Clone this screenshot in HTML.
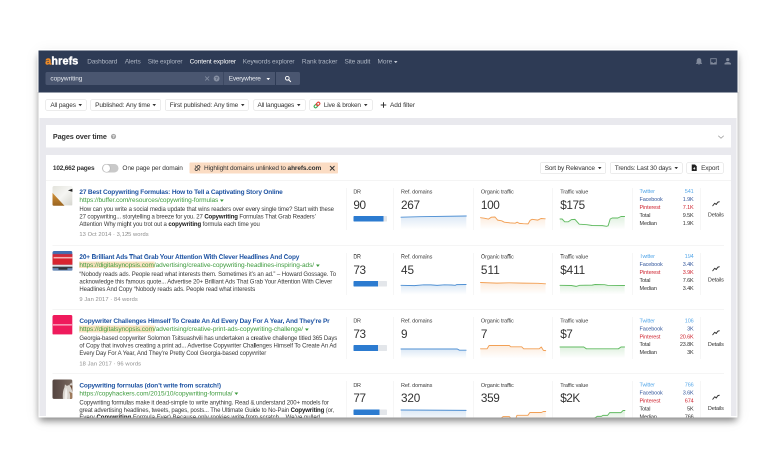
<!DOCTYPE html>
<html lang="en"><head><meta charset="utf-8"><title>Ahrefs Content explorer - copywriting</title>
<style>
html,body{margin:0;padding:0;background:#fff;}
body{width:775px;height:474px;overflow:hidden;position:relative;font-family:"Liberation Sans",sans-serif;}
#stage{position:absolute;left:0;top:0;width:775px;height:474px;overflow:hidden;}
#lay{position:absolute;left:0;top:0;width:1550px;height:948px;transform:scale(.5);transform-origin:0 0;will-change:transform;}
#sh{position:absolute;left:77px;top:101px;width:1398px;height:734px;box-shadow:0 8px 14px -2px rgba(0,0,0,.48),0 4px 30px rgba(0,0,0,.08);}
#halo{position:absolute;left:75px;top:98px;width:1402px;height:86px;background:#fff;}
#win{position:absolute;left:77px;top:101px;width:1398px;height:734px;overflow:hidden;background:#e9e9ee;color:#333;}
.b{position:absolute;display:block;box-sizing:border-box;}
.t{position:absolute;white-space:nowrap;font-size:13px;letter-spacing:-.32px;}
.nav{background:#2e3b55;}
.logo{font-size:21.5px;font-weight:700;color:#fff;-webkit-text-stroke:.8px;}
.nv{color:#aeb6c4;}
.nv.act{color:#fff;}
.sbox{background:#4a5670;}
.sv{color:#e8ebf0;}
.btn{background:#fff;border:1px solid #dadada;border-radius:2.5px;}
.f13{color:#333;}
.h14{font-size:14.500px;font-weight:700;color:#333;}
.b13{font-weight:700;color:#333;}
.ttl{font-weight:700;color:#1f54a3;}
.url{color:#3f9c3f;}
.dsc{font-size:12px;color:#3a3a3a;letter-spacing:-.2px;}
.dsc b{color:#161616;}
.meta{font-size:11.500px;color:#8e8e8e;letter-spacing:-.2px;}
.lbl{font-size:11px;color:#3c3c3c;letter-spacing:-.25px;}
.num{font-size:23.5px;color:#333;}
.soc{font-size:11px;letter-spacing:-.25px;}
</style></head>
<body><div id="stage"><div id="lay"><div id="sh"></div><div id="halo"></div><div id="win">
<div class="b nav" style="left:0.0px;top:0.0px;width:1398.0px;height:83.6px;"></div>
<div class="t logo" style="left:13.6px;top:7.8px;line-height:26px;letter-spacing:0.291px;"><span style="color:#f08c28">a</span>hrefs</div>
<div class="t nv" style="left:97.4px;top:14.2px;line-height:16px;letter-spacing:-0.401px;">Dashboard</div>
<div class="t nv" style="left:172.6px;top:14.2px;line-height:16px;letter-spacing:-0.287px;">Alerts</div>
<div class="t nv" style="left:218.4px;top:14.2px;line-height:16px;letter-spacing:-0.265px;">Site explorer</div>
<div class="t nv act" style="left:302.2px;top:14.2px;line-height:16px;letter-spacing:-0.208px;">Content explorer</div>
<div class="t nv" style="left:408.6px;top:14.2px;line-height:16px;letter-spacing:-0.254px;">Keywords explorer</div>
<div class="t nv" style="left:526.8px;top:14.2px;line-height:16px;letter-spacing:-0.246px;">Rank tracker</div>
<div class="t nv" style="left:612.0px;top:14.2px;line-height:16px;letter-spacing:-0.289px;">Site audit</div>
<div class="t nv" style="left:678.0px;top:14.2px;line-height:16px;letter-spacing:-0.075px;">More</div>
<svg class="b" style="left:710.9px;top:20.55px" width="7" height="4.5" viewBox="0 0 7 4.5"><path d="M0 0h7L3.5 4.5z" fill="#c5cbd6"/></svg>
<svg class="b" style="left:1310.0px;top:12.2px" width="80" height="20" viewBox="0 0 80 20">
<path d="M11 3.200c-3 0-4.600 2.200-4.600 5.200v3.600l-1.600 2v.8h12.400v-.8l-1.600-2V8.400c0-3-1.600-5.200-4.600-5.200zM9.300 15.800a1.800 1.800 0 0 0 3.400 0z" fill="#818a9c"/>
<path d="M33.500 3.500h13v12.500h-13zM35.300 5.300v6.200h2.700l.8 1.600h2.400l.8-1.600h2.700V5.300z" fill="#818a9c" fill-rule="evenodd"/>
<path d="M68.500 3a3.300 3.300 0 1 1 0 6.600a3.300 3.300 0 0 1 0-6.600zM62 16v-1.500c0-2.300 4.300-3.500 6.500-3.500s6.500 1.200 6.500 3.500V16z" fill="#818a9c"/>
</svg>
<div class="b sbox" style="left:14.2px;top:43.4px;width:354.6px;height:26.0px;border-radius:3px 0 0 3px"></div>
<div class="t sv" style="left:23.8px;top:48.4px;line-height:16px;letter-spacing:-0.103px;">copywriting</div>
<svg class="b" style="left:330.0px;top:49.4px" width="34" height="14" viewBox="0 0 34 14">
<path d="M3.300 3l8 8M11.300 3l-8 8" stroke="#8a94a7" stroke-width="1.500" fill="none"/>
<circle cx="26.200" cy="7" r="5.900" fill="#8790a3"/>
<text x="26.200" y="10.300" text-anchor="middle" font-family="Liberation Sans, sans-serif" font-size="9.500" font-weight="700" fill="#414d66">?</text>
</svg>
<div class="b sbox" style="left:369.8px;top:43.4px;width:103.6px;height:26.0px;"></div>
<div class="t sv" style="left:380.6px;top:48.4px;line-height:16px;letter-spacing:-0.493px;">Everywhere</div>
<svg class="b" style="left:455.7px;top:54.55px" width="7" height="4.5" viewBox="0 0 7 4.5"><path d="M0 0h7L3.5 4.5z" fill="#fff"/></svg>
<div class="b sbox" style="left:475.0px;top:43.4px;width:48.0px;height:26.0px;border-radius:0 3px 3px 0"></div>
<svg class="b" style="left:492.0px;top:49.8px" width="14" height="14" viewBox="0 0 14 14">
<circle cx="5.600" cy="5.600" r="3.700" stroke="#fff" stroke-width="1.900" fill="none"/><path d="M8.500 8.500l3.700 3.700" stroke="#fff" stroke-width="2.200" stroke-linecap="round"/></svg>
<div class="b " style="left:0.0px;top:83.6px;width:1398.0px;height:51.0px;background:#fff"></div>
<div class="b btn" style="left:14.2px;top:98.0px;width:82.0px;height:22.4px;"></div><div class="t f13" style="left:23.7px;top:101.3px;line-height:16px;letter-spacing:-0.273px;">All pages</div><svg class="b" style="left:80.1px;top:107.15px" width="7" height="4.5" viewBox="0 0 7 4.5"><path d="M0 0h7L3.5 4.5z" fill="#333"/></svg>
<div class="b btn" style="left:103.8px;top:98.0px;width:141.0px;height:22.4px;"></div><div class="t f13" style="left:113.2px;top:101.3px;line-height:16px;letter-spacing:-0.210px;">Published: Any time</div><svg class="b" style="left:228.1px;top:107.15px" width="7" height="4.5" viewBox="0 0 7 4.5"><path d="M0 0h7L3.5 4.5z" fill="#333"/></svg>
<div class="b btn" style="left:253.0px;top:98.0px;width:167.4px;height:22.4px;"></div><div class="t f13" style="left:262.4px;top:101.3px;line-height:16px;letter-spacing:-0.184px;">First published: Any time</div><svg class="b" style="left:404.5px;top:107.15px" width="7" height="4.5" viewBox="0 0 7 4.5"><path d="M0 0h7L3.5 4.5z" fill="#333"/></svg>
<div class="b btn" style="left:429.6px;top:98.0px;width:104.6px;height:22.4px;"></div><div class="t f13" style="left:438.0px;top:101.3px;line-height:16px;letter-spacing:-0.372px;">All languages</div><svg class="b" style="left:516.7px;top:107.15px" width="7" height="4.5" viewBox="0 0 7 4.5"><path d="M0 0h7L3.5 4.5z" fill="#333"/></svg>
<div class="b btn" style="left:542.0px;top:98.0px;width:126.0px;height:22.4px;"></div><div class="t f13" style="left:570.8px;top:101.3px;line-height:16px;letter-spacing:-0.442px;">Live &amp; broken</div><svg class="b" style="left:650.9px;top:107.15px" width="7" height="4.5" viewBox="0 0 7 4.5"><path d="M0 0h7L3.5 4.5z" fill="#333"/></svg>
<svg class="b" style="left:550.2px;top:102.2px" width="14" height="14" viewBox="0 0 14 14">
<g transform="rotate(-45 7 7)"><rect x="0.200" y="4.300" width="7.400" height="5.400" rx="2.700" fill="none" stroke="#3fae5a" stroke-width="2.300"/><rect x="6.400" y="4.300" width="7.400" height="5.400" rx="2.700" fill="none" stroke="#e2463c" stroke-width="2.300"/></g></svg>
<svg class="b" style="left:683.8px;top:103.4px" width="12" height="12" viewBox="0 0 12 12"><path d="M6 0.500v11M0.500 6h11" stroke="#333" stroke-width="2"/></svg>
<div class="t f13" style="left:703.0px;top:101.4px;line-height:16px;letter-spacing:-0.146px;">Add filter</div>
<div class="b " style="left:14.6px;top:149.0px;width:1370.4px;height:45.2px;background:#fff"></div>
<div class="t h14" style="left:28.8px;top:164.2px;line-height:16px;letter-spacing:-0.231px;">Pages over time</div>
<svg class="b" style="left:143.8px;top:166.2px" width="12" height="12" viewBox="0 0 12 12"><circle cx="6" cy="6" r="5.200" fill="#a6a6a6"/><text x="6" y="9" text-anchor="middle" font-family="Liberation Sans, sans-serif" font-size="8.500" font-weight="700" fill="#fff">?</text></svg>
<svg class="b" style="left:1358.0px;top:168.0px" width="14" height="10" viewBox="0 0 14 10"><path d="M1.500 2.500l5.500 5 5.500-5" stroke="#9a9a9a" stroke-width="1.600" fill="none"/></svg>
<div class="b " style="left:14.6px;top:209.0px;width:1370.4px;height:530.0px;background:#fff"></div>
<div class="t b13" style="left:28.8px;top:227.0px;line-height:16px;letter-spacing:-0.399px;">102,662 pages</div>
<div class="b " style="left:127.4px;top:226.8px;width:33.0px;height:17.6px;background:#c9c9c9;border-radius:9px"><div style="position:absolute;left:1.500px;top:1.500px;width:14.600px;height:14.600px;border-radius:50%;background:#fff;box-shadow:0 0 2px rgba(0,0,0,.35)"></div></div>
<div class="t f13" style="left:167.8px;top:227.0px;line-height:16px;letter-spacing:-0.265px;">One page per domain</div>
<div class="b " style="left:302.2px;top:223.6px;width:297.2px;height:22.8px;background:#fbdcc3;border-radius:2px"></div>
<svg class="b" style="left:312.0px;top:229.0px" width="12" height="12" viewBox="0 0 12 12">
<g fill="none" stroke="#333" stroke-width="1.500"><path d="M4.800 3.400l1.500-1.500a2.600 2.600 0 0 1 3.800 3.800l-1.500 1.500"/><path d="M7.200 8.600l-1.500 1.500a2.600 2.600 0 0 1-3.800-3.800l1.500-1.500"/><path d="M1.200 1.200l9.600 9.600" stroke-width="1.300"/></g></svg>
<div class="t f13" style="left:331.0px;top:227.0px;line-height:16px;letter-spacing:-0.211px;">Highlight domains unlinked to <b>ahrefs.com</b></div>
<svg class="b" style="left:580.8px;top:228.8px" width="13" height="13" viewBox="0 0 13 13"><path d="M2 2l9 9M11 2l-9 9" stroke="#333" stroke-width="1.900" fill="none"/></svg>
<div class="b btn" style="left:1003.0px;top:223.6px;width:132.0px;height:22.8px;"></div><div class="t f13" style="left:1012.4px;top:227.1px;line-height:16px;letter-spacing:-0.352px;">Sort by Relevance</div><svg class="b" style="left:1118.7px;top:232.95px" width="7" height="4.5" viewBox="0 0 7 4.5"><path d="M0 0h7L3.5 4.5z" fill="#333"/></svg>
<div class="b btn" style="left:1143.0px;top:223.6px;width:145.2px;height:22.8px;"></div><div class="t f13" style="left:1152.6px;top:227.1px;line-height:16px;letter-spacing:-0.385px;">Trends: Last 30 days</div><svg class="b" style="left:1271.7px;top:232.95px" width="7" height="4.5" viewBox="0 0 7 4.5"><path d="M0 0h7L3.5 4.5z" fill="#333"/></svg>
<div class="b btn" style="left:1295.8px;top:223.6px;width:74.4px;height:22.8px;"></div><div class="t f13" style="left:1325.2px;top:227.1px;line-height:16px;letter-spacing:-0.276px;">Export</div>
<svg class="b" style="left:1305.8px;top:228.4px" width="11" height="13" viewBox="0 0 11 13"><path d="M0.500 0h6.500l3.500 3.500v9.500h-10z" fill="#222"/><path d="M5.500 5v4M3.600 7.400l1.900 1.900 1.900-1.900" stroke="#fff" stroke-width="1.200" fill="none"/></svg>
<div class="b " style="left:14.6px;top:259.1px;width:1370.4px;height:1.0px;background:#eaeaea"></div>
<div class="b " style="left:27.8px;top:271.2px;width:39.8px;height:39.4px;border-radius:3.500px;overflow:hidden"><svg viewBox="0 0 40 40" width="39.8" height="39.4" preserveAspectRatio="none"><defs><linearGradient id="tg0" x1="0" y1="0" x2="1" y2="1"><stop offset="0" stop-color="#e3e3dc"/><stop offset=".5" stop-color="#f6f6f3"/><stop offset="1" stop-color="#d6d6cf"/></linearGradient><linearGradient id="tg0b" x1="0" y1="0" x2="0" y2="1"><stop offset="0" stop-color="#d39238"/><stop offset="1" stop-color="#9a6521"/></linearGradient></defs><rect width="39.8" height="39.4" preserveAspectRatio="none" fill="url(#tg0)"/><path d="M0 14L24 40H0z" fill="url(#tg0b)"/><path d="M40 5.500l-9 3.500 9 3z" fill="#222"/></svg></div>
<div class="t ttl" style="left:81.8px;top:275.0px;line-height:16px;letter-spacing:-0.340px;">27 Best Copywriting Formulas: How to Tell a Captivating Story Online</div>
<div class="t url" style="left:81.8px;top:291.0px;line-height:16px;letter-spacing:-0.108px;">https://buffer.com/resources/copywriting-formulas</div>
<svg class="b" style="left:363.05px;top:297.5px" width="7.5" height="5" viewBox="0 0 7.5 5"><path d="M0 0h7.5L3.75 5z" fill="#3c9a3c"/></svg>
<div class="t dsc" style="left:81.8px;top:309.2px;line-height:16px;letter-spacing:-0.169px;">How can you write a social media update that wins readers over every single time? Start with these</div>
<div class="t dsc" style="left:81.8px;top:324.0px;line-height:16px;letter-spacing:-0.211px;">27 copywriting... storytelling a breeze for you. 27 <b>Copywriting</b> Formulas That Grab Readers’</div>
<div class="t dsc" style="left:81.8px;top:338.8px;line-height:16px;letter-spacing:-0.177px;">Attention Why might you trot out a <b>copywriting</b> formula each time you</div>
<div class="t meta" style="left:81.8px;top:359.4px;line-height:16px;letter-spacing:0.120px;">13 Oct 2014 · 3,125 words</div>
<div class="b " style="left:614.5px;top:274.8px;width:1.0px;height:84.4px;background:#eeeeee"></div>
<div class="b " style="left:709.7px;top:274.8px;width:1.0px;height:84.4px;background:#eeeeee"></div>
<div class="b " style="left:869.1px;top:274.8px;width:1.0px;height:84.4px;background:#eeeeee"></div>
<div class="b " style="left:1027.5px;top:274.8px;width:1.0px;height:84.4px;background:#eeeeee"></div>
<div class="b " style="left:1187.9px;top:274.8px;width:1.0px;height:84.4px;background:#eeeeee"></div>
<div class="b " style="left:1323.1px;top:274.8px;width:1.0px;height:84.4px;background:#eeeeee"></div>
<div class="t lbl" style="left:629.8px;top:274.2px;line-height:16px;letter-spacing:-0.691px;">DR</div>
<div class="t num" style="left:629.8px;top:293.8px;line-height:30px;letter-spacing:-0.941px;">90</div>
<div class="b " style="left:629.8px;top:331.2px;width:67.2px;height:11.2px;background:#e3e6ea;border-radius:1.500px;overflow:hidden"><div style="width:90%;height:100%;background:#2c7bd0"></div></div>
<div class="t lbl" style="left:725.0px;top:274.2px;line-height:16px;letter-spacing:-0.183px;">Ref. domains</div>
<div class="t num" style="left:725.0px;top:293.8px;line-height:30px;letter-spacing:-0.609px;">267</div>
<svg class="b" style="left:725.0px;top:327.4px;overflow:visible" width="130.6" height="30.2" viewBox="0 0 130.6 30.2"><defs><linearGradient id="g0a" x1="0" y1="0" x2="0" y2="1"><stop offset="0.132" stop-color="#4e8fd3" stop-opacity="0.17"/><stop offset="1" stop-color="#4e8fd3" stop-opacity="0"/></linearGradient></defs><path d="M0.0 6.4 L38.0 5.4 L130.6 4.0 L130.6 30.2 L0 30.2 Z" fill="url(#g0a)"/><path d="M0.0 6.4 L38.0 5.4 L130.6 4.0" fill="none" stroke="#4e8fd3" stroke-width="1.900" stroke-linejoin="round" stroke-linecap="round"/></svg>
<div class="t lbl" style="left:884.8px;top:274.2px;line-height:16px;letter-spacing:-0.177px;">Organic traffic</div>
<div class="t num" style="left:884.8px;top:293.8px;line-height:30px;letter-spacing:-0.709px;">100</div>
<svg class="b" style="left:884.2px;top:329.4px;overflow:visible" width="129.4" height="28.2" viewBox="0 0 129.4 28.2"><defs><linearGradient id="g0b" x1="0" y1="0" x2="0" y2="1"><stop offset="0.142" stop-color="#f2a055" stop-opacity="0.17"/><stop offset="1" stop-color="#f2a055" stop-opacity="0"/></linearGradient></defs><path d="M0.0 5.4 L7.4 6.4 L15.6 8.2 L21.8 4.4 L29.0 4.0 L34.2 10.2 L42.4 11.6 L47.6 14.4 L59.0 15.8 L69.4 16.4 L73.4 14.4 L77.6 16.8 L85.8 17.4 L95.2 17.8 L99.4 10.6 L103.4 8.6 L114.8 10.2 L121.0 7.0 L129.4 7.6 L129.4 28.2 L0 28.2 Z" fill="url(#g0b)"/><path d="M0.0 5.4 L7.4 6.4 L15.6 8.2 L21.8 4.4 L29.0 4.0 L34.2 10.2 L42.4 11.6 L47.6 14.4 L59.0 15.8 L69.4 16.4 L73.4 14.4 L77.6 16.8 L85.8 17.4 L95.2 17.8 L99.4 10.6 L103.4 8.6 L114.8 10.2 L121.0 7.0 L129.4 7.6" fill="none" stroke="#f2a055" stroke-width="1.900" stroke-linejoin="round" stroke-linecap="round"/></svg>
<div class="t lbl" style="left:1043.4px;top:274.2px;line-height:16px;letter-spacing:-0.259px;">Traffic value</div>
<div class="t num" style="left:1043.4px;top:293.8px;line-height:30px;letter-spacing:-0.760px;">$175</div>
<svg class="b" style="left:1043.2px;top:327.8px;overflow:visible" width="129.2" height="29.8" viewBox="0 0 129.2 29.8"><defs><linearGradient id="g0c" x1="0" y1="0" x2="0" y2="1"><stop offset="0.134" stop-color="#62bb62" stop-opacity="0.17"/><stop offset="1" stop-color="#62bb62" stop-opacity="0"/></linearGradient></defs><path d="M0.0 9.0 L4.2 9.0 L9.4 14.6 L16.6 14.6 L22.8 10.2 L30.0 9.8 L38.4 19.4 L53.8 20.4 L64.2 22.0 L84.8 22.2 L93.0 23.6 L96.2 22.6 L100.4 9.0 L104.4 7.0 L115.8 7.0 L122.0 4.0 L129.2 4.0 L129.2 29.8 L0 29.8 Z" fill="url(#g0c)"/><path d="M0.0 9.0 L4.2 9.0 L9.4 14.6 L16.6 14.6 L22.8 10.2 L30.0 9.8 L38.4 19.4 L53.8 20.4 L64.2 22.0 L84.8 22.2 L93.0 23.6 L96.2 22.6 L100.4 9.0 L104.4 7.0 L115.8 7.0 L122.0 4.0 L129.2 4.0" fill="none" stroke="#62bb62" stroke-width="1.900" stroke-linejoin="round" stroke-linecap="round"/></svg>
<div class="t soc" style="left:1202.0px;top:273.4px;line-height:16px;letter-spacing:-0.234px;color:#58a9ea">Twitter</div>
<div class="t soc" style="right:87.8px;top:273.4px;line-height:16px;color:#58a9ea">541</div>
<div class="t soc" style="left:1202.0px;top:289.36px;line-height:16px;letter-spacing:-0.245px;color:#36599d">Facebook</div>
<div class="t soc" style="right:87.8px;top:289.36px;line-height:16px;color:#36599d">1.9K</div>
<div class="t soc" style="left:1202.0px;top:305.32px;line-height:16px;letter-spacing:-0.203px;color:#cf2430">Pinterest</div>
<div class="t soc" style="right:87.8px;top:305.32px;line-height:16px;color:#cf2430">7.1K</div>
<div class="t soc" style="left:1202.0px;top:321.28px;line-height:16px;letter-spacing:-0.312px;color:#333">Total</div>
<div class="t soc" style="right:87.8px;top:321.28px;line-height:16px;color:#333">9.5K</div>
<div class="t soc" style="left:1202.0px;top:337.24px;line-height:16px;letter-spacing:-0.256px;color:#333">Median</div>
<div class="t soc" style="right:87.8px;top:337.24px;line-height:16px;color:#333">1.9K</div>
<svg class="b" style="left:1347.4px;top:301.0px" width="16" height="11" viewBox="0 0 16 11"><path d="M1.500 9.500l4-5 3 2.500 3-4.500 3-1" stroke="#333" stroke-width="2" fill="none" stroke-linejoin="round" stroke-linecap="round"/></svg>
<div class="t lbl" style="left:1338.8px;top:320.4px;line-height:16px;letter-spacing:-0.271px;color:#333">Details</div>
<div class="b " style="left:27.8px;top:389.1px;width:1343.2px;height:1.0px;background:#ebebeb"></div>
<div class="b " style="left:27.8px;top:401.2px;width:39.8px;height:39.4px;border-radius:3.500px;overflow:hidden"><svg viewBox="0 0 40 40" width="39.8" height="39.4" preserveAspectRatio="none"><rect width="39.8" height="39.4" preserveAspectRatio="none" fill="#4270b2"/><rect y="6" width="40" height="22" fill="#d8242f"/><rect y="6" width="40" height="3" fill="#b03a5a" opacity=".7"/><rect x="2" y="12" width="38" height="3.200" fill="#f3b3b6"/><rect y="28" width="40" height="4" fill="#e2e2e2"/><rect y="32" width="40" height="3" fill="#3b3f46"/><rect y="35" width="40" height="5" fill="#6c8cb8"/><rect x="12" y="34" width="18" height="4" fill="#2f3338"/></svg></div>
<div class="t ttl" style="left:81.8px;top:405.0px;line-height:16px;letter-spacing:-0.326px;">20+ Brilliant Ads That Grab Your Attention With Clever Headlines And Copy</div>
<div class="b " style="left:81.4px;top:421.8px;width:150.2px;height:13.6px;background:#fae3c2"></div>
<div class="t url" style="left:81.8px;top:421.0px;line-height:16px;letter-spacing:-0.106px;">https://digitalsynopsis.com/advertising/creative-copywriting-headlines-inspiring-ads/</div>
<svg class="b" style="left:555.25px;top:427.5px" width="7.5" height="5" viewBox="0 0 7.5 5"><path d="M0 0h7.5L3.75 5z" fill="#3c9a3c"/></svg>
<div class="t dsc" style="left:81.8px;top:439.2px;line-height:16px;letter-spacing:-0.182px;">“Nobody reads ads. People read what interests them. Sometimes it’s an ad.” – Howard Gossage. To</div>
<div class="t dsc" style="left:81.8px;top:454.0px;line-height:16px;letter-spacing:-0.154px;">acknowledge this famous quote... Advertise 20+ Brilliant Ads That Grab Your Attention With Clever</div>
<div class="t dsc" style="left:81.8px;top:468.8px;line-height:16px;letter-spacing:-0.175px;">Headlines And Copy “Nobody reads ads. People read what interests</div>
<div class="t meta" style="left:81.8px;top:489.4px;line-height:16px;letter-spacing:0.150px;">9 Jan 2017 · 84 words</div>
<div class="b " style="left:614.5px;top:404.8px;width:1.0px;height:84.4px;background:#eeeeee"></div>
<div class="b " style="left:709.7px;top:404.8px;width:1.0px;height:84.4px;background:#eeeeee"></div>
<div class="b " style="left:869.1px;top:404.8px;width:1.0px;height:84.4px;background:#eeeeee"></div>
<div class="b " style="left:1027.5px;top:404.8px;width:1.0px;height:84.4px;background:#eeeeee"></div>
<div class="b " style="left:1187.9px;top:404.8px;width:1.0px;height:84.4px;background:#eeeeee"></div>
<div class="b " style="left:1323.1px;top:404.8px;width:1.0px;height:84.4px;background:#eeeeee"></div>
<div class="t lbl" style="left:629.8px;top:404.2px;line-height:16px;letter-spacing:-0.691px;">DR</div>
<div class="t num" style="left:629.8px;top:423.8px;line-height:30px;letter-spacing:-0.941px;">73</div>
<div class="b " style="left:629.8px;top:461.2px;width:67.2px;height:11.2px;background:#e3e6ea;border-radius:1.500px;overflow:hidden"><div style="width:73%;height:100%;background:#2c7bd0"></div></div>
<div class="t lbl" style="left:725.0px;top:404.2px;line-height:16px;letter-spacing:-0.183px;">Ref. domains</div>
<div class="t num" style="left:725.0px;top:423.8px;line-height:30px;letter-spacing:-0.141px;">45</div>
<svg class="b" style="left:725.4px;top:463.8px;overflow:visible" width="130.2" height="23.8" viewBox="0 0 130.2 23.8"><defs><linearGradient id="g1a" x1="0" y1="0" x2="0" y2="1"><stop offset="0.168" stop-color="#4e8fd3" stop-opacity="0.17"/><stop offset="1" stop-color="#4e8fd3" stop-opacity="0"/></linearGradient></defs><path d="M0.0 5.6 L26.8 6.2 L45.4 4.6 L59.8 4.8 L72.2 5.8 L86.8 4.6 L101.2 5.0 L108.4 5.6 L111.6 4.2 L130.2 4.0 L130.2 23.8 L0 23.8 Z" fill="url(#g1a)"/><path d="M0.0 5.6 L26.8 6.2 L45.4 4.6 L59.8 4.8 L72.2 5.8 L86.8 4.6 L101.2 5.0 L108.4 5.6 L111.6 4.2 L130.2 4.0" fill="none" stroke="#4e8fd3" stroke-width="1.900" stroke-linejoin="round" stroke-linecap="round"/></svg>
<div class="t lbl" style="left:884.8px;top:404.2px;line-height:16px;letter-spacing:-0.177px;">Organic traffic</div>
<div class="t num" style="left:884.8px;top:423.8px;line-height:30px;letter-spacing:0.166px;">511</div>
<svg class="b" style="left:883.6px;top:460.4px;overflow:visible" width="130.0" height="27.2" viewBox="0 0 130.0 27.2"><defs><linearGradient id="g1b" x1="0" y1="0" x2="0" y2="1"><stop offset="0.147" stop-color="#f2a055" stop-opacity="0.17"/><stop offset="1" stop-color="#f2a055" stop-opacity="0"/></linearGradient></defs><path d="M0.0 4.0 L32.8 5.2 L57.6 4.6 L84.4 5.2 L115.4 5.6 L130.0 6.6 L130.0 27.2 L0 27.2 Z" fill="url(#g1b)"/><path d="M0.0 4.0 L32.8 5.2 L57.6 4.6 L84.4 5.2 L115.4 5.6 L130.0 6.6" fill="none" stroke="#f2a055" stroke-width="1.900" stroke-linejoin="round" stroke-linecap="round"/></svg>
<div class="t lbl" style="left:1043.4px;top:404.2px;line-height:16px;letter-spacing:-0.259px;">Traffic value</div>
<div class="t num" style="left:1043.4px;top:423.8px;line-height:30px;letter-spacing:-0.182px;">$411</div>
<svg class="b" style="left:1043.2px;top:464.0px;overflow:visible" width="129.2" height="23.6" viewBox="0 0 129.2 23.6"><defs><linearGradient id="g1c" x1="0" y1="0" x2="0" y2="1"><stop offset="0.169" stop-color="#62bb62" stop-opacity="0.17"/><stop offset="1" stop-color="#62bb62" stop-opacity="0"/></linearGradient></defs><path d="M0.0 5.6 L22.8 6.0 L32.2 7.8 L39.4 5.6 L64.2 5.2 L70.4 4.0 L89.0 4.4 L95.2 5.6 L129.2 6.0 L129.2 23.6 L0 23.6 Z" fill="url(#g1c)"/><path d="M0.0 5.6 L22.8 6.0 L32.2 7.8 L39.4 5.6 L64.2 5.2 L70.4 4.0 L89.0 4.4 L95.2 5.6 L129.2 6.0" fill="none" stroke="#62bb62" stroke-width="1.900" stroke-linejoin="round" stroke-linecap="round"/></svg>
<div class="t soc" style="left:1202.0px;top:403.4px;line-height:16px;letter-spacing:-0.234px;color:#58a9ea">Twitter</div>
<div class="t soc" style="right:87.8px;top:403.4px;line-height:16px;color:#58a9ea">194</div>
<div class="t soc" style="left:1202.0px;top:419.36px;line-height:16px;letter-spacing:-0.245px;color:#36599d">Facebook</div>
<div class="t soc" style="right:87.8px;top:419.36px;line-height:16px;color:#36599d">3.4K</div>
<div class="t soc" style="left:1202.0px;top:435.32px;line-height:16px;letter-spacing:-0.203px;color:#cf2430">Pinterest</div>
<div class="t soc" style="right:87.8px;top:435.32px;line-height:16px;color:#cf2430">3.9K</div>
<div class="t soc" style="left:1202.0px;top:451.28px;line-height:16px;letter-spacing:-0.312px;color:#333">Total</div>
<div class="t soc" style="right:87.8px;top:451.28px;line-height:16px;color:#333">7.6K</div>
<div class="t soc" style="left:1202.0px;top:467.24px;line-height:16px;letter-spacing:-0.256px;color:#333">Median</div>
<div class="t soc" style="right:87.8px;top:467.24px;line-height:16px;color:#333">3.4K</div>
<svg class="b" style="left:1347.4px;top:431.0px" width="16" height="11" viewBox="0 0 16 11"><path d="M1.500 9.500l4-5 3 2.500 3-4.500 3-1" stroke="#333" stroke-width="2" fill="none" stroke-linejoin="round" stroke-linecap="round"/></svg>
<div class="t lbl" style="left:1338.8px;top:450.4px;line-height:16px;letter-spacing:-0.271px;color:#333">Details</div>
<div class="b " style="left:27.8px;top:517.3px;width:1343.2px;height:1.0px;background:#ebebeb"></div>
<div class="b " style="left:27.8px;top:529.4px;width:39.8px;height:39.4px;border-radius:3.500px;overflow:hidden"><svg viewBox="0 0 40 40" width="39.8" height="39.4" preserveAspectRatio="none"><rect width="39.8" height="39.4" preserveAspectRatio="none" fill="#ef1a5c"/><rect x="1" y="18.500" width="38" height="3" fill="#f9a5be"/></svg></div>
<div class="t ttl" style="left:81.8px;top:533.2px;line-height:16px;letter-spacing:-0.331px;">Copywriter Challenges Himself To Create An Ad Every Day For A Year, And They’re Pr</div>
<div class="b " style="left:81.4px;top:550.0px;width:150.2px;height:13.6px;background:#fae3c2"></div>
<div class="t url" style="left:81.8px;top:549.2px;line-height:16px;letter-spacing:-0.098px;">https://digitalsynopsis.com/advertising/creative-print-ads-copywriting-challenge/</div>
<svg class="b" style="left:533.25px;top:555.7px" width="7.5" height="5" viewBox="0 0 7.5 5"><path d="M0 0h7.5L3.75 5z" fill="#3c9a3c"/></svg>
<div class="t dsc" style="left:81.8px;top:567.4px;line-height:16px;letter-spacing:-0.190px;">Georgia-based copywriter Solomon Tsitsuashvili has undertaken a creative challenge titled 365 Days</div>
<div class="t dsc" style="left:81.8px;top:582.2px;line-height:16px;letter-spacing:-0.165px;">of Copy that involves creating a print ad... Advertise Copywriter Challenges Himself To Create An Ad</div>
<div class="t dsc" style="left:81.8px;top:597.0px;line-height:16px;letter-spacing:-0.199px;">Every Day For A Year, And They’re Pretty Cool Georgia-based copywriter</div>
<div class="t meta" style="left:81.8px;top:617.6px;line-height:16px;letter-spacing:0.143px;">18 Jan 2017 · 96 words</div>
<div class="b " style="left:614.5px;top:533.0px;width:1.0px;height:84.4px;background:#eeeeee"></div>
<div class="b " style="left:709.7px;top:533.0px;width:1.0px;height:84.4px;background:#eeeeee"></div>
<div class="b " style="left:869.1px;top:533.0px;width:1.0px;height:84.4px;background:#eeeeee"></div>
<div class="b " style="left:1027.5px;top:533.0px;width:1.0px;height:84.4px;background:#eeeeee"></div>
<div class="b " style="left:1187.9px;top:533.0px;width:1.0px;height:84.4px;background:#eeeeee"></div>
<div class="b " style="left:1323.1px;top:533.0px;width:1.0px;height:84.4px;background:#eeeeee"></div>
<div class="t lbl" style="left:629.8px;top:532.4px;line-height:16px;letter-spacing:-0.691px;">DR</div>
<div class="t num" style="left:629.8px;top:552.0px;line-height:30px;letter-spacing:-0.941px;">73</div>
<div class="b " style="left:629.8px;top:589.4px;width:67.2px;height:11.2px;background:#e3e6ea;border-radius:1.500px;overflow:hidden"><div style="width:73%;height:100%;background:#2c7bd0"></div></div>
<div class="t lbl" style="left:725.0px;top:532.4px;line-height:16px;letter-spacing:-0.183px;">Ref. domains</div>
<div class="t num" style="left:725.0px;top:552.0px;line-height:30px;letter-spacing:-0.478px;">9</div>
<svg class="b" style="left:725.4px;top:593.0px;overflow:visible" width="130.2" height="22.8" viewBox="0 0 130.2 22.8"><defs><linearGradient id="g2a" x1="0" y1="0" x2="0" y2="1"><stop offset="0.175" stop-color="#4e8fd3" stop-opacity="0.17"/><stop offset="1" stop-color="#4e8fd3" stop-opacity="0"/></linearGradient></defs><path d="M0.0 4.0 L112.6 4.0 L116.8 6.4 L130.2 6.4 L130.2 22.8 L0 22.8 Z" fill="url(#g2a)"/><path d="M0.0 4.0 L112.6 4.0 L116.8 6.4 L130.2 6.4" fill="none" stroke="#4e8fd3" stroke-width="1.900" stroke-linejoin="round" stroke-linecap="round"/></svg>
<div class="t lbl" style="left:884.8px;top:532.4px;line-height:16px;letter-spacing:-0.177px;">Organic traffic</div>
<div class="t num" style="left:884.8px;top:552.0px;line-height:30px;letter-spacing:-0.878px;">7</div>
<svg class="b" style="left:883.6px;top:586.4px;overflow:visible" width="130.4" height="29.4" viewBox="0 0 130.4 29.4"><defs><linearGradient id="g2b" x1="0" y1="0" x2="0" y2="1"><stop offset="0.136" stop-color="#f2a055" stop-opacity="0.17"/><stop offset="1" stop-color="#f2a055" stop-opacity="0"/></linearGradient></defs><path d="M0.0 10.6 L13.2 10.6 L17.2 4.0 L57.6 4.0 L60.6 6.6 L82.4 6.6 L86.4 10.6 L117.4 10.6 L121.6 7.0 L125.8 13.8 L130.4 14.2 L130.4 29.4 L0 29.4 Z" fill="url(#g2b)"/><path d="M0.0 10.6 L13.2 10.6 L17.2 4.0 L57.6 4.0 L60.6 6.6 L82.4 6.6 L86.4 10.6 L117.4 10.6 L121.6 7.0 L125.8 13.8 L130.4 14.2" fill="none" stroke="#f2a055" stroke-width="1.900" stroke-linejoin="round" stroke-linecap="round"/></svg>
<div class="t lbl" style="left:1043.4px;top:532.4px;line-height:16px;letter-spacing:-0.259px;">Traffic value</div>
<div class="t num" style="left:1043.4px;top:552.0px;line-height:30px;letter-spacing:-0.941px;">$7</div>
<svg class="b" style="left:1043.2px;top:589.4px;overflow:visible" width="129.2" height="26.4" viewBox="0 0 129.2 26.4"><defs><linearGradient id="g2c" x1="0" y1="0" x2="0" y2="1"><stop offset="0.152" stop-color="#62bb62" stop-opacity="0.17"/><stop offset="1" stop-color="#62bb62" stop-opacity="0"/></linearGradient></defs><path d="M0.0 4.0 L47.6 4.0 L52.8 7.6 L116.8 7.6 L122.0 4.0 L129.2 4.0 L129.2 26.4 L0 26.4 Z" fill="url(#g2c)"/><path d="M0.0 4.0 L47.6 4.0 L52.8 7.6 L116.8 7.6 L122.0 4.0 L129.2 4.0" fill="none" stroke="#62bb62" stroke-width="1.900" stroke-linejoin="round" stroke-linecap="round"/></svg>
<div class="t soc" style="left:1202.0px;top:531.6px;line-height:16px;letter-spacing:-0.234px;color:#58a9ea">Twitter</div>
<div class="t soc" style="right:87.8px;top:531.6px;line-height:16px;color:#58a9ea">106</div>
<div class="t soc" style="left:1202.0px;top:547.56px;line-height:16px;letter-spacing:-0.245px;color:#36599d">Facebook</div>
<div class="t soc" style="right:87.8px;top:547.56px;line-height:16px;color:#36599d">3K</div>
<div class="t soc" style="left:1202.0px;top:563.52px;line-height:16px;letter-spacing:-0.203px;color:#cf2430">Pinterest</div>
<div class="t soc" style="right:87.8px;top:563.52px;line-height:16px;color:#cf2430">20.6K</div>
<div class="t soc" style="left:1202.0px;top:579.48px;line-height:16px;letter-spacing:-0.312px;color:#333">Total</div>
<div class="t soc" style="right:87.8px;top:579.48px;line-height:16px;color:#333">23.8K</div>
<div class="t soc" style="left:1202.0px;top:595.44px;line-height:16px;letter-spacing:-0.256px;color:#333">Median</div>
<div class="t soc" style="right:87.8px;top:595.44px;line-height:16px;color:#333">3K</div>
<svg class="b" style="left:1347.4px;top:559.2px" width="16" height="11" viewBox="0 0 16 11"><path d="M1.500 9.500l4-5 3 2.500 3-4.500 3-1" stroke="#333" stroke-width="2" fill="none" stroke-linejoin="round" stroke-linecap="round"/></svg>
<div class="t lbl" style="left:1338.8px;top:578.6px;line-height:16px;letter-spacing:-0.271px;color:#333">Details</div>
<div class="b " style="left:27.8px;top:645.7px;width:1343.2px;height:1.0px;background:#ebebeb"></div>
<div class="b " style="left:27.8px;top:657.8px;width:39.8px;height:39.4px;border-radius:3.500px;overflow:hidden"><svg viewBox="0 0 40 40" width="39.8" height="39.4" preserveAspectRatio="none"><defs><linearGradient id="tg3" x1="0" y1="0" x2="1" y2="0"><stop offset="0" stop-color="#544540"/><stop offset=".5" stop-color="#665650"/><stop offset="1" stop-color="#7a6a60"/></linearGradient></defs><rect width="39.8" height="39.4" preserveAspectRatio="none" fill="url(#tg3)"/><path d="M21 40c-1-9 0-18 3-24l1-6 4 3 5-2 4-5 2 6v28z" fill="#d8d3cd"/><path d="M27 16c3 5 4 14 2 24h-5c1-9 1-17 3-24z" fill="#f2efec"/><path d="M34 12c3 3 5 8 6 14v-14z" fill="#6b4a35"/><path d="M33 24c2 3 3 9 2 16h5v-12z" fill="#9c7a5c"/></svg></div>
<div class="t ttl" style="left:81.8px;top:661.6px;line-height:16px;letter-spacing:-0.321px;">Copywriting formulas (don’t write from scratch!)</div>
<div class="t url" style="left:81.8px;top:677.6px;line-height:16px;letter-spacing:-0.084px;">https://copyhackers.com/2015/10/copywriting-formula/</div>
<svg class="b" style="left:392.25px;top:684.1px" width="7.5" height="5" viewBox="0 0 7.5 5"><path d="M0 0h7.5L3.75 5z" fill="#3c9a3c"/></svg>
<div class="t dsc" style="left:81.8px;top:695.8px;line-height:16px;letter-spacing:-0.155px;">Copywriting formulas make it dead-simple to write anything. Read &amp; understand 200+ models for</div>
<div class="t dsc" style="left:81.8px;top:710.6px;line-height:16px;letter-spacing:-0.204px;">great advertising headlines, tweets, pages, posts... The Ultimate Guide to No-Pain <b>Copywriting</b> (or,</div>
<div class="t dsc" style="left:81.8px;top:725.4px;line-height:16px;letter-spacing:0.015px;">Every <b>Copywriting</b> Formula Ever) Because only rookies write from scratch... We’ve pulled</div>
<div class="b " style="left:614.5px;top:661.4px;width:1.0px;height:84.4px;background:#eeeeee"></div>
<div class="b " style="left:709.7px;top:661.4px;width:1.0px;height:84.4px;background:#eeeeee"></div>
<div class="b " style="left:869.1px;top:661.4px;width:1.0px;height:84.4px;background:#eeeeee"></div>
<div class="b " style="left:1027.5px;top:661.4px;width:1.0px;height:84.4px;background:#eeeeee"></div>
<div class="b " style="left:1187.9px;top:661.4px;width:1.0px;height:84.4px;background:#eeeeee"></div>
<div class="b " style="left:1323.1px;top:661.4px;width:1.0px;height:84.4px;background:#eeeeee"></div>
<div class="t lbl" style="left:629.8px;top:660.8px;line-height:16px;letter-spacing:-0.691px;">DR</div>
<div class="t num" style="left:629.8px;top:680.4px;line-height:30px;letter-spacing:-0.941px;">77</div>
<div class="b " style="left:629.8px;top:717.8px;width:67.2px;height:11.2px;background:#e3e6ea;border-radius:1.500px;overflow:hidden"><div style="width:77%;height:100%;background:#2c7bd0"></div></div>
<div class="t lbl" style="left:725.0px;top:660.8px;line-height:16px;letter-spacing:-0.183px;">Ref. domains</div>
<div class="t num" style="left:725.0px;top:680.4px;line-height:30px;letter-spacing:-0.309px;">320</div>
<svg class="b" style="left:725.4px;top:715.0px;overflow:visible" width="130.2" height="29.2" viewBox="0 0 130.2 29.2"><defs><linearGradient id="g3a" x1="0" y1="0" x2="0" y2="1"><stop offset="0.137" stop-color="#4e8fd3" stop-opacity="0.17"/><stop offset="1" stop-color="#4e8fd3" stop-opacity="0"/></linearGradient></defs><path d="M0.0 4.0 L130.2 4.8 L130.2 29.2 L0 29.2 Z" fill="url(#g3a)"/><path d="M0.0 4.0 L130.2 4.8" fill="none" stroke="#4e8fd3" stroke-width="1.900" stroke-linejoin="round" stroke-linecap="round"/></svg>
<div class="t lbl" style="left:884.8px;top:660.8px;line-height:16px;letter-spacing:-0.177px;">Organic traffic</div>
<div class="t num" style="left:884.8px;top:680.4px;line-height:30px;letter-spacing:-0.709px;">359</div>
<svg class="b" style="left:883.6px;top:718.4px;overflow:visible" width="130.4" height="25.8" viewBox="0 0 130.4 25.8"><defs><linearGradient id="g3b" x1="0" y1="0" x2="0" y2="1"><stop offset="0.155" stop-color="#f2a055" stop-opacity="0.17"/><stop offset="1" stop-color="#f2a055" stop-opacity="0"/></linearGradient></defs><path d="M0.0 18.6 L39.4 18.6 L45.2 14.2 L57.6 14.2 L60.4 17.0 L71.0 17.0 L73.0 11.6 L94.8 11.6 L98.8 6.0 L121.6 6.0 L125.8 4.0 L130.4 4.0 L130.4 25.8 L0 25.8 Z" fill="url(#g3b)"/><path d="M0.0 18.6 L39.4 18.6 L45.2 14.2 L57.6 14.2 L60.4 17.0 L71.0 17.0 L73.0 11.6 L94.8 11.6 L98.8 6.0 L121.6 6.0 L125.8 4.0 L130.4 4.0" fill="none" stroke="#f2a055" stroke-width="1.900" stroke-linejoin="round" stroke-linecap="round"/></svg>
<div class="t lbl" style="left:1043.4px;top:660.8px;line-height:16px;letter-spacing:-0.259px;">Traffic value</div>
<div class="t num" style="left:1043.4px;top:680.4px;line-height:30px;letter-spacing:-0.914px;">$2K</div>
<svg class="b" style="left:1043.2px;top:715.6px;overflow:visible" width="129.8" height="28.6" viewBox="0 0 129.8 28.6"><defs><linearGradient id="g3c" x1="0" y1="0" x2="0" y2="1"><stop offset="0.14" stop-color="#62bb62" stop-opacity="0.17"/><stop offset="1" stop-color="#62bb62" stop-opacity="0"/></linearGradient></defs><path d="M0.0 25.4 L59.8 25.4 L65.8 20.2 L71.4 17.8 L74.4 15.8 L82.8 15.8 L85.8 13.8 L95.2 13.8 L99.4 8.2 L122.0 8.2 L126.2 4.0 L129.8 4.0 L129.8 28.6 L0 28.6 Z" fill="url(#g3c)"/><path d="M0.0 25.4 L59.8 25.4 L65.8 20.2 L71.4 17.8 L74.4 15.8 L82.8 15.8 L85.8 13.8 L95.2 13.8 L99.4 8.2 L122.0 8.2 L126.2 4.0 L129.8 4.0" fill="none" stroke="#62bb62" stroke-width="1.900" stroke-linejoin="round" stroke-linecap="round"/></svg>
<div class="t soc" style="left:1202.0px;top:660.0px;line-height:16px;letter-spacing:-0.234px;color:#58a9ea">Twitter</div>
<div class="t soc" style="right:87.8px;top:660.0px;line-height:16px;color:#58a9ea">766</div>
<div class="t soc" style="left:1202.0px;top:675.96px;line-height:16px;letter-spacing:-0.245px;color:#36599d">Facebook</div>
<div class="t soc" style="right:87.8px;top:675.96px;line-height:16px;color:#36599d">3.6K</div>
<div class="t soc" style="left:1202.0px;top:691.92px;line-height:16px;letter-spacing:-0.203px;color:#cf2430">Pinterest</div>
<div class="t soc" style="right:87.8px;top:691.92px;line-height:16px;color:#cf2430">674</div>
<div class="t soc" style="left:1202.0px;top:707.88px;line-height:16px;letter-spacing:-0.312px;color:#333">Total</div>
<div class="t soc" style="right:87.8px;top:707.88px;line-height:16px;color:#333">5K</div>
<div class="t soc" style="left:1202.0px;top:723.84px;line-height:16px;letter-spacing:-0.256px;color:#333">Median</div>
<div class="t soc" style="right:87.8px;top:723.84px;line-height:16px;color:#333">766</div>
<svg class="b" style="left:1347.4px;top:687.6px" width="16" height="11" viewBox="0 0 16 11"><path d="M1.500 9.500l4-5 3 2.500 3-4.500 3-1" stroke="#333" stroke-width="2" fill="none" stroke-linejoin="round" stroke-linecap="round"/></svg>
<div class="t lbl" style="left:1338.8px;top:707.0px;line-height:16px;letter-spacing:-0.271px;color:#333">Details</div>
<div class="b " style="left:0.0px;top:83.6px;width:1.6px;height:651.4px;background:#fff"></div>
<div class="b " style="left:1396.4px;top:83.6px;width:1.6px;height:651.4px;background:#fff"></div>
<div class="b " style="left:0.0px;top:731.0px;width:14.6px;height:4.0px;background:#fff"></div>
<div class="b " style="left:1385.0px;top:731.0px;width:13.0px;height:4.0px;background:#fff"></div>
</div></div></div></body></html>
